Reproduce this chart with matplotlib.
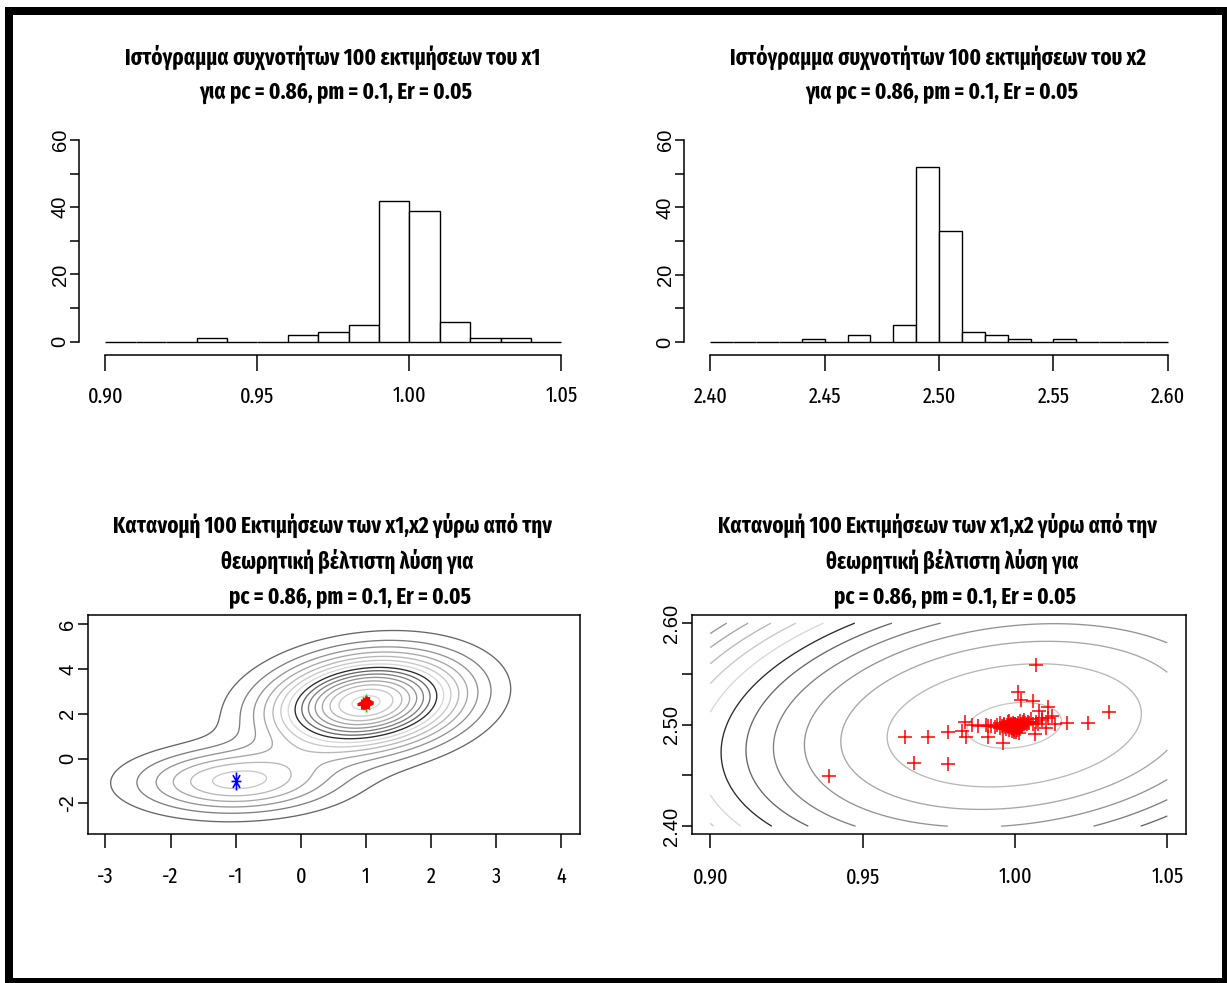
import os
import numpy as np
import matplotlib
matplotlib.use("Agg")
import matplotlib.pyplot as plt
from matplotlib import font_manager as fm
from matplotlib.font_manager import FontProperties
from matplotlib.ft2font import FT2Font
from matplotlib.path import Path
from matplotlib.patches import Rectangle

W, H = 1227, 983

# ---------------- data ----------------
x1_bin_edges = [0.90, 0.91, 0.92, 0.93, 0.94, 0.95, 0.96, 0.97, 0.98, 0.99,
                1.00, 1.01, 1.02, 1.03, 1.04, 1.05]
x1_counts = [0, 0, 0, 1, 0, 0, 2, 3, 5, 42, 39, 6, 1, 1, 0]

x2_bin_edges = [2.40, 2.41, 2.42, 2.43, 2.44, 2.45, 2.46, 2.47, 2.48, 2.49, 2.50,
                2.51, 2.52, 2.53, 2.54, 2.55, 2.56, 2.57, 2.58, 2.59, 2.60]
x2_counts = [0, 0, 0, 0, 1, 0, 2, 0, 5, 52, 33, 3, 2, 1, 0, 1, 0, 0, 0, 0]

# 100 estimates (x1, x2)
x1_est = [
    1.007, 1.001, 1.002, 1.006, 1.011, 1.031, 1.024, 1.017, 1.013, 1.0103,
    1.0065, 0.996, 0.991, 0.991, 0.988, 0.9835, 0.9825, 0.984, 0.978, 0.9715,
    0.964, 0.967, 0.978, 0.939, 1.011, 1.012, 1.009, 0.986, 1.008,
    0.9905, 0.9921, 0.9934, 0.9942, 0.9950, 0.9956, 0.9961, 0.9965, 0.9968, 0.9971,
    0.9974, 0.9977, 0.9979, 0.9981, 0.9983, 0.9985, 0.9986, 0.9988, 0.9989, 0.9990,
    0.9991, 0.9992, 0.9993, 0.9994, 0.9995, 0.9996, 0.9996, 0.9997, 0.9997, 0.9998,
    0.9998, 0.9999, 0.9999, 0.9952, 0.9963, 0.9978, 0.9987, 0.9993, 0.9982,
    1.0001, 1.0002, 1.0003, 1.0004, 1.0005, 1.0006, 1.0007, 1.0008, 1.0010, 1.0011,
    1.0012, 1.0014, 1.0015, 1.0017, 1.0019, 1.0021, 1.0023, 1.0025, 1.0028, 1.0031,
    1.0034, 1.0038, 1.0042, 1.0047, 1.0053, 1.0060, 1.0068, 1.0077, 1.0088, 1.0009,
    1.0016, 1.0026]
x2_est = [
    2.559, 2.532, 2.524, 2.523, 2.517, 2.512, 2.502, 2.502, 2.501, 2.497,
    2.491, 2.482, 2.488, 2.499, 2.499, 2.503, 2.494, 2.488, 2.493, 2.488,
    2.488, 2.462, 2.461, 2.449, 2.507, 2.509, 2.505, 2.4995, 2.513,
    2.4992, 2.4985, 2.4978, 2.4996, 2.4970, 2.4988, 2.4962, 2.4994, 2.4981, 2.4955,
    2.4998, 2.4975, 2.4990, 2.4948, 2.4983, 2.4997, 2.4966, 2.4987, 2.4940, 2.4993,
    2.4979, 2.4958, 2.4999, 2.4972, 2.4986, 2.4932, 2.4995, 2.4968, 2.4989, 2.4951,
    2.5004, 2.5011, 2.5002, 2.5019, 2.5007, 2.5026, 2.5003, 2.5014, 2.5035,
    2.4991, 2.4976, 2.4984, 2.4925, 2.4997, 2.4963, 2.4982, 2.4945, 2.4994, 2.4971,
    2.4987, 2.4915, 2.4990, 2.4959, 2.4980,
    2.5009, 2.5001, 2.5022, 2.5006, 2.5043, 2.5012, 2.5005, 2.5030, 2.5016, 2.5055,
    2.5008, 2.5024, 2.5003, 2.5065, 2.5013, 2.5038, 2.5010]

opt_global = (1.0, 2.5)
opt_local = (-1.0, -1.0)

# objective surface: gaussian components (amplitude, centre, spreads, correlation)
comp_amp = [1.0, 0.41]
comp_cx = [1.0, -1.0]
comp_cy = [2.5, -1.0]
comp_sx = [0.95, 1.0]
comp_sy = [1.38, 0.95]
comp_rho = [0.19, 0.05]

hist_x1_ticks = [0.90, 0.95, 1.00, 1.05]
hist_x1_labels = ["0.90", "0.95", "1.00", "1.05"]
hist_x2_ticks = [2.40, 2.45, 2.50, 2.55, 2.60]
hist_x2_labels = ["2.40", "2.45", "2.50", "2.55", "2.60"]
hist_y_ticks = [0, 10, 20, 30, 40, 50, 60]
hist_y_labels = ["0", "", "20", "", "40", "", "60"]
bl_x_ticks = [-3, -2, -1, 0, 1, 2, 3, 4]
bl_x_labels = ["-3", "-2", "-1", "0", "1", "2", "3", "4"]
bl_y_ticks = [-2, 0, 2, 4, 6]
bl_y_labels = ["-2", "0", "2", "4", "6"]
br_x_ticks = [0.90, 0.95, 1.00, 1.05]
br_x_labels = ["0.90", "0.95", "1.00", "1.05"]
br_y_ticks = [2.40, 2.45, 2.50, 2.55, 2.60]
br_y_labels = ["2.40", "", "2.50", "", "2.60"]

title_hist1 = ["Ιστόγραμμα συχνοτήτων 100 εκτιμήσεων του x1", "για pc = 0.86, pm = 0.1, Er = 0.05"]
title_hist2 = ["Ιστόγραμμα συχνοτήτων 100 εκτιμήσεων του x2", "για pc = 0.86, pm = 0.1, Er = 0.05"]
title_scatter = ["Κατανομή 100 Εκτιμήσεων των x1,x2 γύρω από την",
                 "θεωρητική βέλτιστη λύση για",
                 "pc = 0.86, pm = 0.1, Er = 0.05"]

# ---------------- fonts: look for a narrow face with Greek ----------------
def has_greek(path):
    try:
        cm = FT2Font(path).get_charmap()
        return 0x3B1 in cm and 0x3A9 in cm
    except Exception:
        return False


def pick_narrow(bold):
    best, best_score = None, -1
    for f in fm.fontManager.ttflist:
        b = os.path.basename(f.fname).lower()
        if "italic" in b or "oblique" in b:
            continue
        if not any(k in b for k in ("narrow", "condensed")):
            continue
        if bold:
            if "bold" not in b or "semibold" in b or "extrabold" in b:
                continue
        else:
            if any(k in b for k in ("bold", "light", "thin", "black", "medium")):
                continue
        if "extracondensed" in b or "extra-condensed" in b:
            score = 3
        elif "semicondensed" in b or "semi-condensed" in b:
            score = 1
        else:
            score = 2
        if score > best_score and has_greek(f.fname):
            best, best_score = f.fname, score
    return best


nb = pick_narrow(True)
nr = pick_narrow(False)
title_fp = FontProperties(fname=nb) if nb else FontProperties(family="Liberation Sans", weight="bold")
tick_fp = FontProperties(fname=nr) if nr else FontProperties(family="Liberation Sans")
ylab_fp = FontProperties(family="Liberation Sans")

fig = plt.figure(figsize=(W / 100, H / 100), dpi=100)
fig.patch.set_facecolor("white")
renderer = fig.canvas.get_renderer()


def px_axes(l, t, r, b):
    return fig.add_axes([l / W, 1 - b / H, (r - l) / W, (b - t) / H])


def pt(px):
    return px * 72 / 100


def fit_size(text, fp, target_w, target_cap, probe=20):
    q = fp.copy()
    q.set_size(probe)
    t = fig.text(0, 0, text, fontproperties=q)
    w = t.get_window_extent(renderer).width
    t.remove()
    by_w = probe * target_w / w
    by_h = pt(target_cap / 0.716)
    return min(by_w, by_h)


def sized(fp, size):
    q = fp.copy()
    q.set_size(size)
    return q


def surface(X, Y):
    Z = np.zeros_like(X, dtype=float)
    for A, cx, cy, sx, sy, r in zip(comp_amp, comp_cx, comp_cy, comp_sx, comp_sy, comp_rho):
        u = (X - cx) / sx
        v = (Y - cy) / sy
        Z += A * np.exp(-0.5 * (u * u - 2 * r * u * v + v * v) / (1 - r * r))
    return Z


palette = ["#2a2a2a", "#666666", "#7e7e7e", "#939393", "#a6a6a6", "#b7b7b7", "#c7c7c7", "#d7d7d7"]

xsz = fit_size("0.90", tick_fp, 36, 17.5)
XFP = sized(tick_fp, xsz)
YFP = sized(ylab_fp, 14.5)


def set_labels(ax, xt, xl, yt, yl):
    ax.set_xticks(xt)
    ax.set_xticklabels(xl, fontproperties=XFP)
    ax.set_yticks(yt)
    ax.set_yticklabels(yl, fontproperties=YFP, rotation=90, va="center")


def style_hist(ax, edges, counts, ticks, labels):
    ax.bar(edges[:-1], counts, width=np.diff(edges), align="edge",
           facecolor="white", edgecolor="black", linewidth=1.0, clip_on=False)
    ax.set_xlim(edges[0], edges[-1])
    ax.set_ylim(0, 60)
    for s in ("top", "right"):
        ax.spines[s].set_visible(False)
    ax.spines["left"].set_position(("outward", 19))
    ax.spines["left"].set_bounds(0, 60)
    ax.spines["bottom"].set_position(("outward", 9.5))
    ax.spines["bottom"].set_bounds(edges[0], edges[-1])
    for s in ("left", "bottom"):
        ax.spines[s].set_linewidth(1.1)
    set_labels(ax, ticks, labels, hist_y_ticks, hist_y_labels)
    ax.tick_params(axis="x", length=pt(15.5), width=1.1, pad=pt(15))
    ax.tick_params(axis="y", length=pt(9), width=1.1, pad=pt(0.5))
    ax.patch.set_alpha(0)


def style_box(ax, xt, xl, yt, yl, ypad):
    for s in ax.spines.values():
        s.set_linewidth(1.1)
    set_labels(ax, xt, xl, yt, yl)
    ax.tick_params(axis="x", length=pt(14), width=1.1, pad=pt(18))
    ax.tick_params(axis="y", length=pt(10), width=1.1, pad=pt(ypad))


# ---------------- histograms ----------------
ax1 = px_axes(105.4, 140, 561.4, 341.7)
style_hist(ax1, x1_bin_edges, x1_counts, hist_x1_ticks, hist_x1_labels)

ax2 = px_axes(710.4, 140, 1167.8, 342)
style_hist(ax2, x2_bin_edges, x2_counts, hist_x2_ticks, hist_x2_labels)

# ---------------- asterisk marker (R pch 8, squeezed horizontally) ----------------
ast_v, ast_c = [], []
for (a, b) in [((-0.55, 0), (0.55, 0)), ((0, -1), (0, 1)),
               ((-0.39, -0.71), (0.39, 0.71)), ((-0.39, 0.71), (0.39, -0.71))]:
    ast_v += [a, b]
    ast_c += [Path.MOVETO, Path.LINETO]
asterisk = Path(ast_v, ast_c)

# ---------------- contour (full view) ----------------
ax3 = px_axes(87.5, 615, 580, 834)
gx = np.linspace(-3, 4, 301)
gy = np.linspace(-3, 6.06, 301)
GX, GY = np.meshgrid(gx, gy)
Z = surface(GX, GY)
step_l = 0.065
lev_idx = np.arange(1, 16)
levels_l = step_l * lev_idx
cols_l = [palette[(j - 8) % 8] for j in lev_idx]
ax3.contour(GX, GY, Z, levels=levels_l, colors=cols_l, linewidths=0.95)
ax3.plot([opt_local[0]], [opt_local[1]], linestyle="none", marker=asterisk,
         markersize=13, markeredgecolor="blue", markeredgewidth=1.2)
ax3.plot([opt_global[0]], [opt_global[1]], linestyle="none", marker=asterisk,
         markersize=13, markeredgecolor="#00dd00", markeredgewidth=1.2)
ax3.plot(x1_est, x2_est, linestyle="none", marker="+", markersize=7,
         markeredgecolor="red", markeredgewidth=2.2)
ax3.set_xlim(-3.275, 4.285)
ax3.set_ylim(-3.37, 6.42)
style_box(ax3, bl_x_ticks, bl_x_labels, bl_y_ticks, bl_y_labels, 0.5)

# ---------------- contour (zoomed view) ----------------
ax4 = px_axes(692, 615, 1185.6, 834.3)
rx = np.linspace(0.90, 1.05, 241)
ry = np.linspace(2.40, 2.60, 241)
RX, RY = np.meshgrid(rx, ry)
ZR = surface(RX, RY)
F0 = float(surface(np.array(opt_global[0]), np.array(opt_global[1])))
step_r = 0.00083
levs, cols = [], []
for k in range(60):
    L = F0 - step_r * (0.16 + k)
    if L <= ZR.min():
        break
    levs.append(L)
    cols.append(palette[(6 - k) % 8])
levs = levs[::-1]
cols = cols[::-1]
ax4.contour(RX, RY, ZR, levels=levs, colors=cols, linewidths=0.95)
ax4.plot([opt_global[0]], [opt_global[1]], linestyle="none", marker=asterisk,
         markersize=8, markeredgecolor="#00dd00", markeredgewidth=1.0)
ax4.plot(x1_est, x2_est, linestyle="none", marker="+", markersize=9.5,
         markeredgecolor="red", markeredgewidth=1.1)
ax4.set_xlim(0.894, 1.056)
ax4.set_ylim(2.392, 2.608)
style_box(ax4, br_x_ticks, br_x_labels, br_y_ticks, br_y_labels, 0.5)

# ---------------- titles ----------------
ts = 0.5 * (fit_size(title_hist1[0], title_fp, 411, 17.5) + fit_size(title_scatter[0], title_fp, 443, 17.5))
TFP = sized(title_fp, ts)


def put(x, y, s):
    fig.text(x / W, 1 - y / H, s, fontproperties=TFP, color="black", ha="center", va="center")


put(333, 57, title_hist1[0]); put(336, 92, title_hist1[1])
put(938, 57, title_hist2[0]); put(942, 92, title_hist2[1])
put(333, 525, title_scatter[0]); put(347, 561, title_scatter[1]); put(350, 596, title_scatter[2])
put(938, 525, title_scatter[0]); put(952, 561, title_scatter[1]); put(955, 596, title_scatter[2])

# ---------------- outer frame ----------------
fig.patches.append(Rectangle((9 / W, 1 - 981.5 / H), (1225.5 - 9) / W, (981.5 - 11) / H,
                             transform=fig.transFigure, fill=False,
                             edgecolor="black", linewidth=pt(8)))

fig.savefig("out.png", dpi=100, facecolor="white")
